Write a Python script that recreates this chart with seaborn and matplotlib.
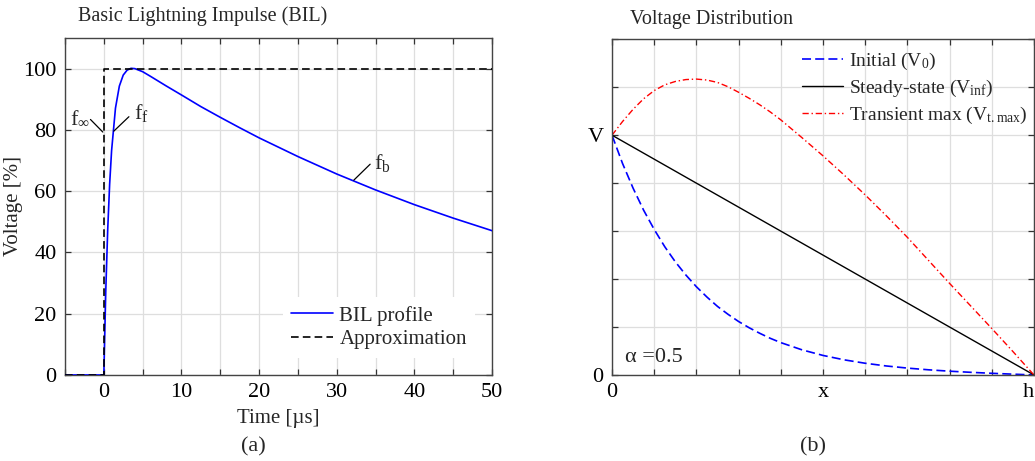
import numpy as np
import pandas as pd
import matplotlib
matplotlib.use("Agg")
import matplotlib.pyplot as plt
import seaborn as sns

# ---- panel (a): lightning impulse ----
bil_t = [-5, 0, 0.25, 0.5, 0.75, 1, 1.5, 2, 2.5, 3, 3.5, 4, 5, 6, 8, 10,
         12.5, 15, 17.5, 20, 25, 30, 35, 40, 45, 50]
bil_v = [0, 0, 27.3, 47.4, 62.3, 73.2, 87.1, 94.3, 97.9, 99.5, 100.1, 100.0,
         99.0, 97.5, 94.4, 91.4, 87.6, 84.1, 80.7, 77.4, 71.3, 65.6, 60.4,
         55.6, 51.2, 47.1]
approx_t = [-5, 0, 0, 50]
approx_v = [0, 0, 100, 100]
# label, text pos (t, v), leader start, leader end
bil_notes = [
    (r"f$_{\infty}$", (-4.3, 82.4), (-1.72, 83.4), (-0.13, 79.3)),
    (r"f$_{\mathrm{f}}$", (3.9, 83.6), (3.23, 84.3), (1.29, 79.6)),
    (r"f$_{\mathrm{b}}$", (34.8, 67.2), (34.3, 68.8), (32.2, 63.6)),
]

# ---- panel (b): voltage distribution along winding ----
dist_x = [0, 0.025, 0.05, 0.075, 0.1, 0.125, 0.15, 0.175, 0.2, 0.225, 0.25,
          0.275, 0.3, 0.325, 0.35, 0.375, 0.4, 0.45, 0.5, 0.55, 0.6, 0.65,
          0.7, 0.75, 0.8, 0.85, 0.9, 0.95, 1.0]
v_initial = [1.0, 0.882, 0.779, 0.687, 0.607, 0.535, 0.472, 0.417, 0.368,
             0.325, 0.286, 0.253, 0.223, 0.197, 0.174, 0.153, 0.135, 0.105,
             0.0815, 0.0632, 0.0489, 0.0376, 0.0287, 0.0216, 0.0158, 0.0111,
             0.007, 0.0034, 0.0]
v_steady = [1.0, 0.975, 0.95, 0.925, 0.9, 0.875, 0.85, 0.825, 0.8, 0.775,
            0.75, 0.725, 0.7, 0.675, 0.65, 0.625, 0.6, 0.55, 0.5, 0.45, 0.4,
            0.35, 0.3, 0.25, 0.2, 0.15, 0.1, 0.05, 0.0]
v_transient = [1.0, 1.057, 1.108, 1.152, 1.186, 1.21, 1.224, 1.232, 1.234,
               1.23, 1.22, 1.202, 1.179, 1.154, 1.127, 1.097, 1.064, 0.99,
               0.914, 0.834, 0.751, 0.664, 0.574, 0.478, 0.382, 0.288, 0.194,
               0.098, 0.0]
alpha_text = "α =0.5"

sns.set_theme(style="ticks")
plt.rcParams["font.family"] = ["Liberation Serif", "DejaVu Serif"]
plt.rcParams["mathtext.fontset"] = "custom"
plt.rcParams["mathtext.rm"] = "Liberation Serif"
plt.rcParams["mathtext.it"] = "Liberation Serif"
plt.rcParams["lines.scale_dashes"] = False

FS = 15
fig = plt.figure(figsize=(10.35, 4.61), dpi=100)
ax1 = fig.add_axes([0.0628, 0.1866, 0.4126, 0.731])
ax2 = fig.add_axes([0.5913, 0.1866, 0.4077, 0.7282])

df_bil = pd.DataFrame({"t": bil_t, "v": bil_v})
df_apx = pd.DataFrame({"t": approx_t, "v": approx_v})
sns.lineplot(data=df_bil, x="t", y="v", ax=ax1, color="#0000ff", lw=1.2,
             estimator=None, sort=False, label="BIL profile", zorder=3)
sns.lineplot(data=df_apx, x="t", y="v", ax=ax1, color="black", lw=1.2,
             linestyle=(0, (5.5, 3)), estimator=None, sort=False,
             label="Approximation", zorder=4)

for lab, tpos, p0, p1 in bil_notes:
    ax1.plot([p0[0], p1[0]], [p0[1], p1[1]], color="black", lw=0.9, zorder=5)
    ax1.text(tpos[0], tpos[1], lab, fontsize=FS + 1, ha="left", va="baseline")

ax1.set_xlim(-5, 50)
ax1.set_ylim(0, 110)
ax1.set_xticks(np.arange(-5, 51, 5))
ax1.set_xticklabels(["" if t % 10 else str(t) for t in range(-5, 51, 5)])
ax1.set_yticks(np.arange(0, 101, 20))
ax1.set_xlabel("Time [µs]", fontsize=FS, labelpad=5)
ax1.set_ylabel("Voltage [%]", fontsize=FS, labelpad=0)
ax1.text(0.03, 1.035, "Basic Lightning Impulse (BIL)", transform=ax1.transAxes,
         fontsize=FS - 0.5, ha="left", va="bottom")
ax1.legend(loc="lower right", fontsize=FS, frameon=True, fancybox=False,
           framealpha=1, facecolor="white", edgecolor="none",
           handlelength=2.0, handletextpad=0.3, labelspacing=0.2,
           borderaxespad=0.5, bbox_to_anchor=(0.985, 0.02))

# panel (b)
df_dist = pd.DataFrame({"x": dist_x, "v0": v_initial, "vs": v_steady,
                        "vt": v_transient})
sns.lineplot(data=df_dist, x="x", y="v0", ax=ax2, color="#0000ff", lw=1.2,
             linestyle=(0, (6.5, 3)), estimator=None, sort=False,
             label=r"Initial (V$_{0}$)")
sns.lineplot(data=df_dist, x="x", y="vs", ax=ax2, color="black", lw=1.0,
             estimator=None, sort=False, label=r"Steady-state (V$_{\mathrm{inf}}$)")
sns.lineplot(data=df_dist, x="x", y="vt", ax=ax2, color="#ff0000", lw=1.0,
             linestyle=(0, (4.5, 2, 1, 2)), estimator=None, sort=False,
             label=r"Transient max (V$_{\mathrm{t.max}}$)")
ax2.set_xlim(0, 1)
ax2.set_ylim(0, 1.4)
ax2.set_xticks(np.linspace(0, 1, 11))
ax2.set_xticklabels(["0", "", "", "", "", "x", "", "", "", "", "h"])
ax2.get_xticklabels()[-1].set_horizontalalignment("right")
ax2.set_yticks(np.linspace(0, 1.4, 8))
ax2.set_yticklabels(["0", "", "", "", "", "V", "", ""])
ax2.set_xlabel("")
ax2.set_ylabel("")
ax2.text(0.031, 0.052, alpha_text, transform=ax2.transAxes, fontsize=FS + 1,
         ha="left", va="center")
ax2.text(0.043, 1.03, "Voltage Distribution", transform=ax2.transAxes,
         fontsize=FS - 0.5, ha="left", va="bottom")
ax2.legend(loc="upper right", fontsize=FS - 1, frameon=False,
           handlelength=2.1, handletextpad=0.3, labelspacing=0.3,
           borderaxespad=0.3, bbox_to_anchor=(1.017, 1.005))

for ax in (ax1, ax2):
    ax.grid(True, color="#dedede", lw=0.9)
    ax.set_axisbelow(True)
    ax.tick_params(direction="in", length=4, width=0.9, top=True, right=True,
                   labelsize=FS + 1, colors="#333333", labelcolor="black", pad=6)
    for s in ax.spines.values():
        s.set_visible(True)
        s.set_color("#444444")
        s.set_linewidth(1.0)

fig.text(253 / 1035, 1 - 447 / 461, "(a)", fontsize=FS + 1, ha="center", va="center")
fig.text(813 / 1035, 1 - 447 / 461, "(b)", fontsize=FS + 1, ha="center", va="center")

fig.savefig("out.png", dpi=100)
